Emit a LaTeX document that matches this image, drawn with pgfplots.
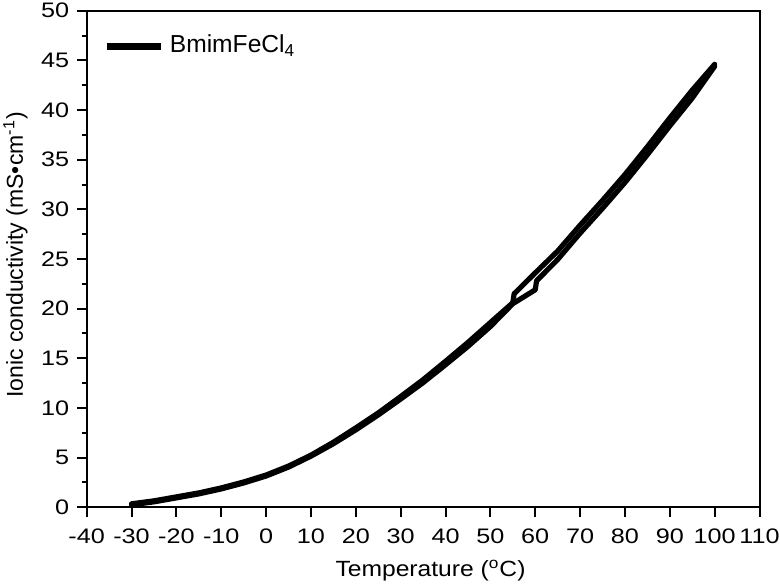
\documentclass[border=0pt]{standalone}
\usepackage{fontspec}
\setmainfont{Liberation Sans}[FakeStretch=1.12]
\newfontfamily\legfont{Liberation Sans}
\newfontfamily\tickfont{Liberation Sans}[FakeStretch=1.2]
\usepackage{pgfplots}
\pgfplotsset{compat=1.18}
\begin{document}
\begin{tikzpicture}
\useasboundingbox (-43.35bp,-38.35bp) rectangle (346.65bp,253.65bp);
\begin{axis}[
  scale only axis, width=336.4bp, height=248.3bp,
  xmin=-40, xmax=110, ymin=0, ymax=50,
  xtick={-40,-30,...,110}, ytick={0,5,...,50},
  minor y tick num=1,
  tick pos=left, tick align=outside,
  major tick length=4.7bp, minor tick length=2.5bp,
  axis line style={line width=1bp},
  every tick/.style={line width=1bp, black},
  font=\fontsize{10.5bp}{12bp}\selectfont,
  tick label style={font=\tickfont\fontsize{10.5bp}{12bp}\selectfont},
  /pgf/number format/assume math mode=true,
  xticklabel style={anchor=north, inner sep=0pt, yshift=-6bp},
  yticklabel style={anchor=east, inner sep=0pt, xshift=-3.9bp},
  xlabel={Temperature (\textsuperscript{o}C)},
  ylabel={Ionic conductivity (mS•cm\textsuperscript{-1})},
  xlabel style={at={(axis description cs:0.5,0)}, anchor=base, yshift=-34.8bp, xshift=3.7bp, inner sep=0pt, font=\fontsize{11bp}{13bp}\selectfont},
  ylabel style={at={(axis description cs:0,0.5)}, anchor=base, yshift=31.85bp, xshift=2bp, inner sep=0pt, font=\legfont\fontsize{11.5bp}{13bp}\selectfont},
  legend style={draw=none, fill=none, inner sep=0pt, at={(axis description cs:0,1)}, anchor=north west,
    xshift=8.1bp, yshift=-10bp, font=\legfont\fontsize{12.3bp}{14bp}\selectfont, column sep=1bp},
  legend image code/.code={\draw[line width=3.3bp, line cap=butt] (0bp,-0.5bp) -- (27bp,-0.5bp);},
]
\addplot[black, line width=2.6bp, line join=round, line cap=round] coordinates {
(-30,0.35)(-25,0.65)(-20,1.05)(-15,1.45)(-10,1.95)(-5,2.55)(0,3.25)(5,4.15)(10,5.25)(15,6.55)(20,8.0)(25,9.5)(30,11.15)(35,12.85)(40,14.7)(45,16.6)(50,18.6)(55,20.6)(55.3,21.5)(60,23.6)(65,25.8)(70,28.4)(75,30.9)(80,33.5)(85,36.3)(90,39.2)(95,42.0)(100,44.6)
};
\addplot[black, line width=2.6bp, line join=round, line cap=round] coordinates {
(-30,0.25)(-25,0.55)(-20,0.95)(-15,1.35)(-10,1.85)(-5,2.45)(0,3.15)(5,4.05)(10,5.15)(15,6.4)(20,7.8)(25,9.3)(30,10.9)(35,12.55)(40,14.35)(45,16.2)(50,18.2)(55,20.5)(60,21.9)(60.3,22.8)(65,24.95)(70,27.6)(75,30.1)(80,32.7)(85,35.5)(90,38.4)(95,41.2)(100,44.4)
};
\legend{BmimFeCl\textsubscript{4}}
\end{axis}
\end{tikzpicture}
\end{document}
